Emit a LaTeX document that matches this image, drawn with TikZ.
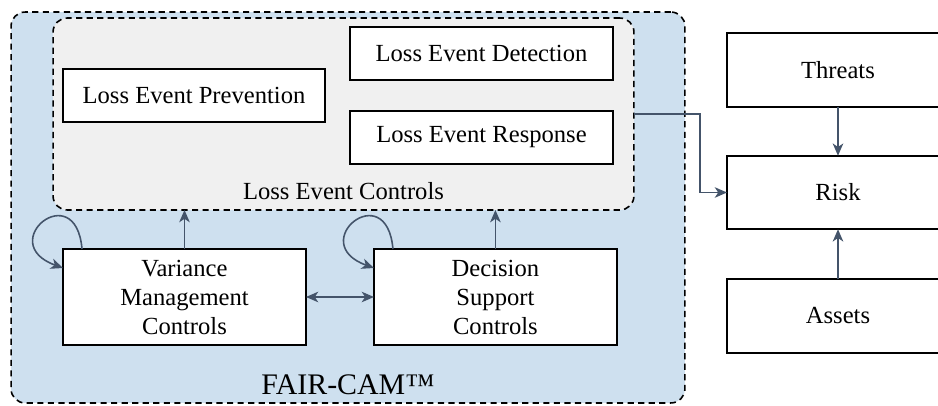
\documentclass[tikz,border=0pt]{standalone}
\usepackage{fontspec}
\setmainfont{Liberation Serif}
\usetikzlibrary{
	arrows.meta,
	positioning
}
\definecolor{camblue}{RGB}{206,224,239}
\definecolor{lecgray}{RGB}{240,240,240}
\definecolor{pilfarge}{RGB}{68,84,106}
\newcommand{\boksfont}{\fontsize{14}{16.5}\selectfont}
\tikzset{
%Define standard arrow tip
>={Stealth[inset=2pt,length=7pt,width=6pt]},
%Define style for boxes
boks/.style={
	rectangle,
	draw=black, line width=1pt,
	fill=white,
	inner sep=0pt, outer sep=0pt,
	align=center,
	font=\boksfont},
%Define style for dashed frames
ramme/.style={
	rectangle,
	rounded corners=8pt,
	draw=black, line width=0.9pt,
	dash pattern=on 3.5pt off 2.5pt,
	inner sep=0pt, outer sep=0pt},
% Define arrow style
pil/.style={
	->,
	draw=pilfarge,
	line width=0.9pt},
lil/.style={
	<->,
	draw=pilfarge,
	line width=0.9pt}
}
\begin{document}
\begin{tikzpicture}[x=0.02cm,y=-0.02cm]
	\useasboundingbox (0,0) rectangle (938,406);
	\clip (0,0) rectangle (938,406);
	% frames
	\node[ramme, fill=camblue, minimum width=13.48cm, minimum height=7.82cm] (cam) at (348,207.5) {};
	\node[ramme, fill=lecgray, minimum width=11.62cm, minimum height=3.84cm] (lec) at (343.5,114) {};
	\node[anchor=base, font=\boksfont] (leclabel) at ([yshift=0.2cm]lec.south) {Loss Event Controls};
	\node[anchor=base, font=\fontsize{17}{20}\selectfont] (camlabel) at ([yshift=0.16cm]cam.south) {FAIR-CAM™};
	% loss event controls
	\node[boks, minimum width=5.24cm, minimum height=1.06cm] (prev) at (194,95.5) {Loss Event Prevention};
	\node[boks, minimum width=5.26cm, minimum height=1.06cm] (det) at (481.5,53.5) {Loss Event Detection};
	\node[boks, minimum width=5.26cm, minimum height=1.06cm, below=0.62cm of det] (resp) {Loss Event Response};
	% management controls
	\node[boks, text width=4.86cm, minimum height=1.92cm] (vmc) at (184.5,297) {Variance\\Management\\Controls};
	\node[boks, text width=4.86cm, minimum height=1.92cm, right=1.36cm of vmc] (dsc) {Decision\\Support\\Controls};
	% risk side
	\node[boks, minimum width=4.44cm, minimum height=1.47cm] (risk) at (838,192.5) {Risk};
	\node[boks, minimum width=4.44cm, minimum height=1.47cm, above=0.98cm of risk] (threats) {Threats};
	\node[boks, minimum width=4.44cm, minimum height=1.47cm, below=1.0cm of risk] (assets) {Assets};
	% connectors
	\draw[pil] (lec.east) -- ++(66,0) |- (risk.west);
	\draw[pil] (threats) -- (risk);
	\draw[pil] (assets) -- (risk);
	\draw[pil] (vmc.north) -- (vmc.north |- lec.south);
	\draw[pil] (dsc.north) -- (dsc.north |- lec.south);
	\draw[lil] (vmc) -- (dsc);
	\draw[pil] ([xshift=0.38cm]vmc.north west) to[out=95,in=160,looseness=7] ([yshift=-0.38cm]vmc.north west);
	\draw[pil] ([xshift=0.38cm]dsc.north west) to[out=95,in=160,looseness=7] ([yshift=-0.38cm]dsc.north west);
\end{tikzpicture}
\end{document}
